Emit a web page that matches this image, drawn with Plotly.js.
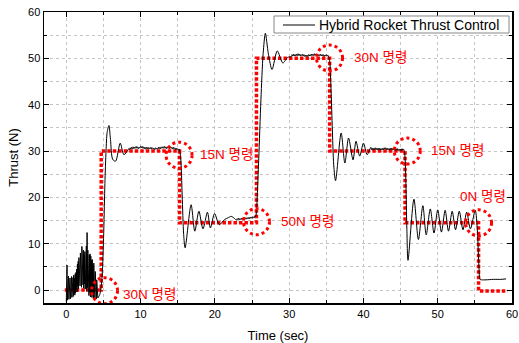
<!DOCTYPE html>
<html>
<head>
<meta charset="utf-8">
<script src="https://cdn.plot.ly/plotly-3.0.1.min.js"></script>
<style>html,body{margin:0;padding:0;background:#fff;}#chart{width:519px;height:343px;}</style>
</head>
<body>
<div id="chart"></div>
<script>
// Ignition noise (0 - 4.3 s)
var noiseTime = [
0.00,0.05,0.10,0.15,0.20,0.25,0.30,0.35,0.40,0.45,0.50,0.55,0.60,0.65,0.70,0.75,0.80,0.85,0.90,0.95,
1.00,1.05,1.10,1.15,1.20,1.25,1.30,1.35,1.40,1.45,1.50,1.55,1.60,1.65,1.70,1.75,1.80,1.85,1.90,1.95,
2.00,2.05,2.10,2.15,2.20,2.25,2.30,2.35,2.40,2.45,2.50,2.55,2.60,2.65,2.70,2.75,2.80,2.85,2.90,2.95,
3.00,3.05,3.10,3.15,3.20,3.25,3.30,3.35,3.40,3.45,3.50,3.55,3.60,3.65,3.70,3.75,3.80,3.85,3.90,3.95,
4.00,4.05,4.10,4.15,4.20,4.25,4.30,4.40
];
var noiseThrust = [
-2.5,1.0,5.4,-2.2,2.0,-1.8,3.0,-2.0,1.5,-1.5,2.6,-1.9,2.2,-1.2,2.9,-1.6,1.8,-1.0,2.7,-1.4,
3.2,-0.8,2.5,-1.1,3.5,-0.6,3.8,0.2,4.5,-0.4,5.6,0.8,6.2,0.3,7.0,1.5,6.5,0.9,8.0,1.8,
7.4,0.6,9.4,2.0,8.2,1.1,8.6,0.4,7.6,1.3,8.3,0.2,7.8,1.0,9.5,-0.3,12.4,0.5,8.6,-0.8,
8.2,-1.2,7.6,-0.5,7.8,-1.5,7.3,-0.9,6.4,-1.6,6.6,-1.1,5.2,-1.8,5.8,-1.3,5.5,-2.0,4.0,-1.5,
3.5,-1.9,2.2,-1.4,0.5,-1.7,-1.5,-1.4
];

// Controlled thrust response (4.4 - 59.2 s)
var timeSec = [
4.4,4.5,4.6,4.75,4.9,5.05,5.2,5.35,5.5,5.74,5.95,6.25,6.64,7.26,7.75,
8.3,8.4,8.5,8.6,8.7,8.8,8.9,9.0,9.1,9.2,9.3,9.4,9.5,9.6,9.7,9.8,9.9,10.0,10.1,10.2,10.3,10.4,10.5,10.6,10.7,10.8,10.9,11.0,
11.1,11.2,11.3,11.4,11.5,11.6,11.7,11.8,11.9,12.0,12.1,12.2,12.3,12.4,12.5,12.6,12.7,12.8,12.9,13.0,13.1,13.2,13.3,13.4,13.5,
13.6,13.7,13.8,13.9,14.0,14.1,14.2,14.3,14.4,14.5,14.6,14.7,14.8,14.9,15.0,15.1,15.2,
15.4,15.6,15.8,16.0,16.8,17.3,17.85,18.4,19.0,19.4,19.96,20.6,21.3,21.8,22.2,22.6,
22.9,23.0,23.1,23.2,23.3,23.4,23.5,23.6,23.7,23.8,23.9,24.0,24.1,24.2,24.3,24.4,24.5,24.6,24.7,24.8,24.9,25.0,25.1,25.2,25.3,25.4,25.5,
25.6,25.9,26.2,26.5,26.8,27.2,27.7,28.4,29.15,29.8,
30.3,30.4,30.5,30.6,30.7,30.8,30.9,31.0,31.1,31.2,31.3,31.4,31.5,31.6,31.7,31.8,31.9,32.0,32.1,32.2,32.3,32.4,32.5,32.6,32.7,
32.8,32.9,33.0,33.1,33.2,33.3,33.4,33.5,33.6,33.7,33.8,33.9,34.0,34.1,34.2,34.3,34.4,34.5,34.6,34.7,34.8,34.9,35.0,35.1,35.2,35.3,
35.45,35.6,35.8,36.0,36.25,37.0,37.5,38.0,38.6,39.0,39.5,40.0,40.5,
41.0,41.1,41.2,41.3,41.4,41.5,41.6,41.7,41.8,41.9,42.0,42.1,42.2,42.3,42.4,42.5,42.6,42.7,42.8,42.9,43.0,43.1,43.2,
43.3,43.4,43.5,43.6,43.7,43.8,43.9,44.0,44.1,44.2,44.3,44.4,44.5,44.6,44.7,44.8,44.9,45.0,45.1,45.2,45.3,45.4,
45.55,45.7,45.85,46.0,46.8,47.4,48.0,48.45,49.0,49.5,50.0,50.5,51.0,51.45,51.95,52.4,52.9,53.4,53.9,54.4,55.05,
55.35,55.55,55.7,55.9,56.5,57.5,58.5,59.2
];
var thrustN = [
-1.4,-1.0,-0.3,1.5,5.5,13,23,30,34,35.5,32.5,28.2,27.8,31.7,29.2,
30.2,30.5,30.3,30.7,30.4,30.8,30.5,30.9,30.5,30.8,30.6,31.0,30.6,30.9,30.5,30.8,30.6,31.0,30.7,31.0,30.6,30.9,30.5,30.8,30.4,30.8,30.5,30.8,
30.4,30.7,30.5,30.8,30.4,30.7,30.5,30.6,30.3,30.7,30.4,30.6,30.4,30.8,30.5,30.8,30.5,30.9,30.6,30.9,30.6,31.0,30.6,30.9,30.5,
30.9,30.6,30.8,30.5,30.9,30.6,30.8,30.4,30.8,30.5,30.7,30.3,30.6,30.3,30.5,30.1,30.4,
28.5,20.5,12,9.1,18.4,12.7,17.0,13.2,16.8,13.4,16.5,14.1,15.2,15.6,15.9,15.5,
15.1,15.4,15.2,15.5,15.1,15.4,15.2,15.5,15.2,15.5,15.3,15.6,15.3,15.6,15.3,15.6,15.4,15.7,15.4,15.7,15.5,15.8,15.5,15.8,15.6,16.0,15.8,
17,28,41,51,55.4,51,47.6,51.6,49.0,50.2,
50.4,50.8,50.5,50.9,50.5,50.8,50.5,50.9,50.6,51.0,50.6,50.9,50.5,50.8,50.6,50.9,50.5,50.8,50.4,50.7,50.4,50.7,50.4,50.8,50.5,
50.8,50.5,50.9,50.6,50.9,50.6,51.0,50.6,50.9,50.6,50.9,50.5,50.8,50.6,50.9,50.5,50.8,50.5,50.8,50.4,50.7,50.5,50.8,50.5,50.7,50.4,
49.5,45,35.5,27,23.6,33.9,27.4,32.8,28.1,32.1,28.9,31.7,29.2,
30.8,30.3,30.6,30.2,30.6,30.3,30.7,30.3,30.6,30.2,30.6,30.3,30.6,30.2,30.5,30.2,30.6,30.3,30.7,30.4,30.7,30.3,30.6,
30.2,30.5,30.2,30.6,30.3,30.6,30.2,30.6,30.2,30.5,30.1,30.5,30.2,30.5,30.1,30.4,30.1,30.4,30.1,30.5,30.2,30.4,
29.5,24,13,6.4,19.6,10.9,18.2,11.9,17.5,12.3,17.3,12.5,17.2,12.7,17.0,13.0,17.0,13.0,16.8,13.2,17.2,
12.5,5,2.3,2.2,2.2,2.3,2.3,2.4
];

// Commanded thrust (red dotted step profile)
var cmdTime = [-0.2,4.7,4.7,15.25,15.25,25.6,25.6,35.45,35.45,45.6,45.6,55.5,55.5,59.4];
var cmdThrust = [0,0,30,30,14.5,14.5,50,50,30,30,14.5,14.5,-0.2,-0.2];

// Command callouts
var calloutT = [5.15,15.18,25.6,35.44,45.9,55.5];
var calloutY = [-0.15,29.1,14.75,50.06,30,14.5];
var labelText = ['30N 명령','15N 명령','50N 명령','30N 명령','15N 명령','0N 명령'];
var labelT = [7.3,17.7,28.6,38.4,48.8,52.7];
var labelY = [-1.0,29.2,14.8,50.2,30.1,20.2];

var legendLabel = 'Hybrid Rocket Thrust Control';

var red = '#ff0000';
var fontFam = 'Arial, "Liberation Sans", "Noto Sans CJK KR", sans-serif';

var traces = [
  {x: cmdTime, y: cmdThrust, mode: 'lines', showlegend: false,
   line: {color: red, width: 3.5, dash: '3.5px,2px'}},
  {x: noiseTime, y: noiseThrust, mode: 'lines', showlegend: false,
   line: {color: '#000', width: 1}},
  {x: timeSec, y: thrustN, mode: 'lines', name: legendLabel, showlegend: false,
   line: {color: '#000', width: 1, shape: 'spline', smoothing: 0.8}}
];

var shapes = calloutT.map(function(t, i){
  return {type: 'circle', xref: 'x', yref: 'y', xsizemode: 'pixel', ysizemode: 'pixel',
    xanchor: t, yanchor: calloutY[i], x0: -13, x1: 13, y0: -13, y1: 13,
    line: {color: red, width: 3, dash: 'dot'}};
});
// legend box (drawn to match the compact boxed legend of the original)
shapes.push({type: 'rect', xref: 'paper', yref: 'paper', x0: 0.4915, x1: 0.9936, y0: 0.9278, y1: 0.9863,
  fillcolor: '#fff', line: {color: '#888', width: 1}, layer: 'above'});
shapes.push({type: 'line', xref: 'paper', yref: 'paper', x0: 0.5107, x1: 0.5791, y0: 0.9553, y1: 0.9553,
  line: {color: '#000', width: 1}, layer: 'above'});

var annotations = labelText.map(function(s, i){
  return {x: labelT[i], y: labelY[i], xref: 'x', yref: 'y', text: s, showarrow: false,
    xanchor: 'left', yanchor: 'middle', font: {color: red, size: 13.5, family: fontFam}};
});
annotations.push({x: 0.584, y: 0.9563, xref: 'paper', yref: 'paper', text: legendLabel, showarrow: false,
  xanchor: 'left', yanchor: 'middle', font: {color: '#000', size: 14, family: fontFam}});

var gridCol = '#c4c4c4';
function axis(range, titleText){
  return {
    range: range, tick0: 0, dtick: 10, ticks: 'inside', ticklen: 5, tickwidth: 1, tickcolor: '#000',
    showline: true, linecolor: '#000', linewidth: 1.5, mirror: 'allticks',
    showgrid: true, gridcolor: gridCol, griddash: 'dot', gridwidth: 1, zeroline: false,
    tickfont: {size: 11, color: '#000', family: fontFam},
    minor: {dtick: 5, tick0: 0, ticks: 'inside', ticklen: 3, tickcolor: '#000', tickwidth: 1,
            showgrid: true, gridcolor: gridCol, griddash: 'dot', gridwidth: 1},
    title: {text: titleText, font: {size: 13, color: '#000', family: fontFam}}
  };
}

var xa = axis([-3, 60], 'Time (sec)'); xa.title.standoff = 12;
var ya = axis([-2.8, 60], 'Thrust (N)'); ya.title.standoff = 6;

var layout = {
  width: 519, height: 343,
  margin: {l: 44, r: 7, t: 12, b: 40},
  paper_bgcolor: '#fff', plot_bgcolor: '#fff',
  font: {family: fontFam, color: '#000'},
  xaxis: xa, yaxis: ya,
  showlegend: false,
  shapes: shapes,
  annotations: annotations
};

Plotly.newPlot('chart', traces, layout, {staticPlot: true, displayModeBar: false});
</script>
</body>
</html>
